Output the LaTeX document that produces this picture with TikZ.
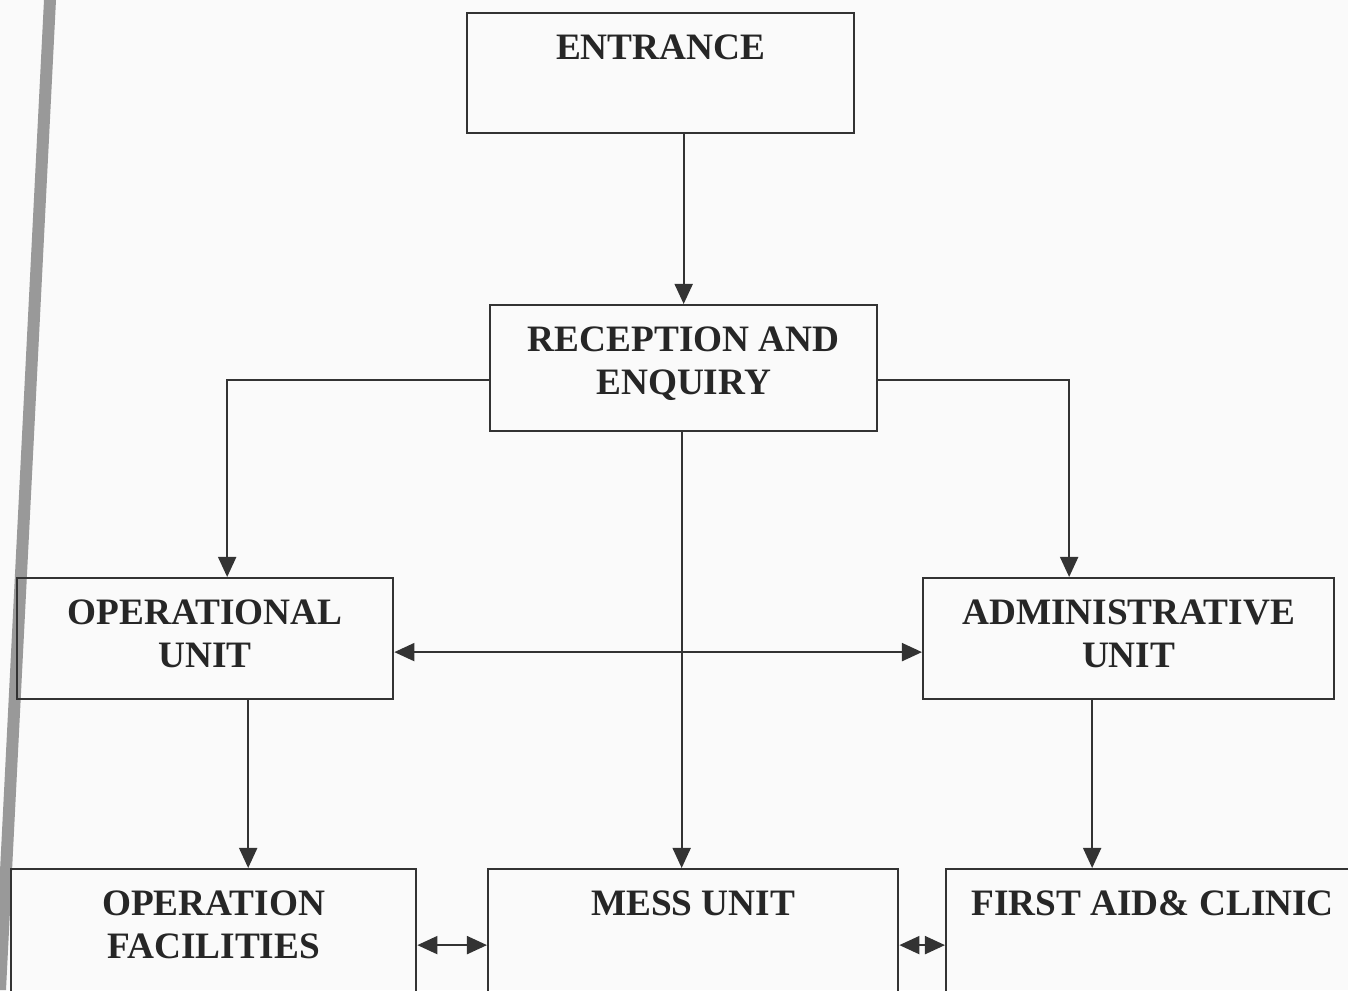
\documentclass[tikz,border=0pt]{standalone}
\usepackage{fontspec}
\setmainfont{Liberation Serif}
\usetikzlibrary{arrows.meta}
\tikzset{
  unitbox/.style={draw=black!80, line width=0.6pt, rectangle, inner sep=0pt, anchor=north west},
  unitlabel/.style={anchor=north, inner sep=0pt, yshift=-0.22cm, align=center,
    font=\fontsize{10.6}{12.2}\selectfont\bfseries, text=black!85},
  flow/.style={draw=black!80, line width=0.6pt, -{Triangle[length=5.7pt,width=5.1pt]}},
  twoway/.style={flow, {Triangle[length=5.7pt,width=5.1pt]}-{Triangle[length=5.7pt,width=5.1pt]}}
}
\begin{document}
\begin{tikzpicture}[x=0.01cm, y=-0.01cm]
  \clip (0,0) rectangle (1348,990);
  \fill[black!2] (0,0) rectangle (1348,990);
  % page edge of the scan
  \fill[black!40] (44,0) -- (56,0) -- (6,990) -- (-6,990) -- cycle;

  \node[unitbox, minimum width=3.87cm, minimum height=1.20cm,
    label={[unitlabel]north:ENTRANCE}] (entrance) at (466,12) {};
  \node[unitbox, minimum width=3.87cm, minimum height=1.26cm,
    label={[unitlabel]north:RECEPTION AND\\ENQUIRY}] (reception) at (489,304) {};
  \node[unitbox, minimum width=3.76cm, minimum height=1.21cm,
    label={[unitlabel]north:OPERATIONAL\\UNIT}] (opunit) at (16,577) {};
  \node[unitbox, minimum width=4.11cm, minimum height=1.21cm,
    label={[unitlabel]north:ADMINISTRATIVE\\UNIT}] (adminunit) at (922,577) {};
  \node[unitbox, minimum width=4.05cm, minimum height=1.52cm,
    label={[unitlabel]north:OPERATION\\FACILITIES}] (opfac) at (10,868) {};
  \node[unitbox, minimum width=4.10cm, minimum height=1.52cm,
    label={[unitlabel]north:MESS UNIT}] (mess) at (487,868) {};
  \node[unitbox, minimum width=4.13cm, minimum height=1.52cm,
    label={[unitlabel]north:FIRST AID\& CLINIC}] (firstaid) at (945,868) {};

  \draw[flow] (reception.north |- entrance.south) -- (reception.north);
  \draw[flow] ([yshift=-0.12cm]reception.west) -| ([xshift=0.22cm]opunit.north);
  \draw[flow] ([yshift=-0.12cm]reception.east) -| ([xshift=-0.595cm]adminunit.north);
  \draw[flow] ([xshift=-0.02cm]reception.south) -- ([xshift=-0.02cm]reception.south |- mess.north);
  \draw[twoway] ([yshift=-0.135cm]opunit.east) -- ([yshift=-0.135cm]adminunit.west);
  \draw[flow] ([xshift=0.43cm]opunit.south) -- ([xshift=0.43cm]opunit.south |- opfac.north);
  \draw[flow] ([xshift=-0.365cm]adminunit.south) -- ([xshift=-0.365cm]adminunit.south |- firstaid.north);
  \draw[twoway] (opfac.east) -- (mess.west);
  \draw[twoway] (mess.east) -- (firstaid.west);
\end{tikzpicture}
\end{document}
